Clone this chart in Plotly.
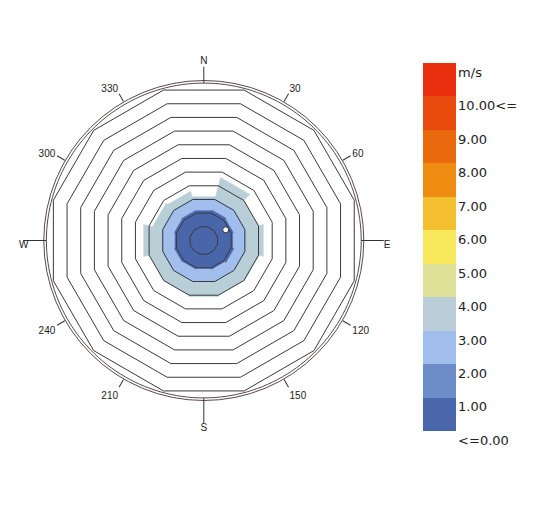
import numpy as np
import plotly.graph_objects as go

# ---------------- data ----------------
directions = [0, 30, 60, 90, 120, 150, 180, 210, 240, 270, 300, 330]
# frequency per direction sector for each speed bin (ring units)
freq_0_1 = [2.18, 2.22, 2.16, 2.11, 2.20, 2.10, 2.03, 2.10, 2.15, 2.10, 2.15, 2.20]
freq_2_3 = [0.90, 0.85, 0.90, 0.95, 0.85, 0.90, 0.95, 0.90, 0.90, 0.95, 0.90, 0.85]
freq_3_4 = [0.12, 1.53, 0.94, 1.29, 1.00, 1.00, 1.12, 1.00, 0.95, 1.35, 0.70, 0.55]
bin_colors = ["#4A66AA", "#A1BEEC", "#B9CFD8"]

mean_direction = 64
mean_value = 1.78

rings = list(range(1, 12))
outer_circles = [11.51, 11.70]
tick_angles = [30, 60, 120, 150, 210, 240, 300, 330]
tick_labels = ["30", "60", "120", "150", "210", "240", "300", "330"]
cardinal_angles = [0, 90, 180, 270]
cardinal_labels = ["N", "E", "S", "W"]
cardinal_line_len = [1.2, 1.65, 1.85, 1.65]
cardinal_text_pos = ["top center", "bottom right", "bottom center", "bottom center"]

legend_labels = ["<=0.00", "1.00", "2.00", "3.00", "4.00", "5.00", "6.00",
                 "7.00", "8.00", "9.00", "10.00<=", "m/s"]
legend_colors = ["#4A67AB", "#6D8DC9", "#A0BDEB", "#B9CED8", "#E0E198", "#F7E85C",
                 "#F5C030", "#EE8C12", "#E96A0C", "#E94A0E", "#E82E0C"]

# ---------------- figure ----------------
half = 15.0
kfac = 1.0 / np.cos(np.deg2rad(half))   # flat-face value -> vertex radius

fig = go.Figure()

cum = np.zeros(len(directions))
layers = []
for vals, col in zip([freq_0_1, freq_2_3, freq_3_4], bin_colors):
    cum = cum + np.array(vals)
    layers.append((cum.copy(), col))

for cumvals, col in reversed(layers):
    th, rr = [], []
    for d, v in zip(directions, cumvals):
        th += [d - half, d + half]
        rr += [v * kfac, v * kfac]
    th.append(th[0]); rr.append(rr[0])
    fig.add_trace(go.Scatterpolar(r=rr, theta=th, mode="lines", fill="toself",
                                  fillcolor=col, line=dict(color=col, width=0.5),
                                  hoverinfo="skip", showlegend=False))

# polygon grid rings
gth, grr = [], []
verts = [d + half for d in directions]
for k in rings:
    gth += verts + [verts[0], None]
    grr += [k * kfac] * (len(verts) + 1) + [None]
fig.add_trace(go.Scatterpolar(r=grr, theta=gth, mode="lines", connectgaps=False,
                              line=dict(color="#3a3a3a", width=1),
                              hoverinfo="skip", showlegend=False))

# inner outer-circle
cth = list(np.arange(0, 361, 2))
fig.add_trace(go.Scatterpolar(r=[outer_circles[0]] * len(cth), theta=cth, mode="lines",
                              line=dict(color="#5a4848", width=1),
                              hoverinfo="skip", showlegend=False))

# mean point
fig.add_trace(go.Scatterpolar(r=[mean_value], theta=[mean_direction], mode="markers",
                              marker=dict(size=6, color="white",
                                          line=dict(color="#333333", width=1)),
                              hoverinfo="skip", showlegend=False))

# long cardinal tick lines + labels (on a larger, transparent overlay polar)
lth, lrr = [], []
for a, ln in zip(cardinal_angles, cardinal_line_len):
    lth += [a, a, None]
    lrr += [outer_circles[0], outer_circles[0] + ln, None]
fig.add_trace(go.Scatterpolar(r=lrr, theta=lth, mode="lines", connectgaps=False,
                              line=dict(color="#333333", width=1), subplot="polar2",
                              hoverinfo="skip", showlegend=False))
fig.add_trace(go.Scatterpolar(r=[outer_circles[0] + ln for ln in cardinal_line_len],
                              theta=cardinal_angles, mode="text", text=cardinal_labels,
                              textposition=cardinal_text_pos, cliponaxis=False,
                              subplot="polar2",
                              textfont=dict(family="Liberation Sans", size=10, color="#222222"),
                              hoverinfo="skip", showlegend=False))

# page offset of the plot inside the browser window (default body margin)
off = 8
W, H = 537, 513

# colour legend
n = len(legend_colors)
cscale = []
for i, c in enumerate(legend_colors):
    cscale += [[i / n, c], [(i + 1) / n, c]]
fig.add_trace(go.Scatterpolar(
    r=[0], theta=[0], mode="markers", hoverinfo="skip", showlegend=False,
    marker=dict(size=1, opacity=0, color=[0], colorscale=cscale, cmin=0, cmax=n,
                showscale=True,
                colorbar=dict(x=(423 - off) / W, xanchor="left", xpad=0,
                              y=1 - (246.7 - off) / H, yanchor="middle", ypad=0,
                              thickness=33, thicknessmode="pixels",
                              len=368, lenmode="pixels",
                              outlinewidth=0, ticks="outside", ticklen=8,
                              tickcolor="rgba(0,0,0,0)",
                              tickvals=list(range(len(legend_labels))),
                              ticktext=legend_labels,
                              ticklabelposition="outside bottom",
                              tickfont=dict(family="DejaVu Sans", size=13, color="#222222")))))

cx, cy, R = 203.8 - off, H - (240.5 - off), 160.0
R2 = 190.0
fig.update_layout(
    width=W, height=H, margin=dict(l=0, r=0, t=0, b=0, autoexpand=False),
    paper_bgcolor="white", showlegend=False,
    polar=dict(
        domain=dict(x=[(cx - R) / W, (cx + R) / W], y=[(cy - R) / H, (cy + R) / H]),
        bgcolor="white",
        radialaxis=dict(range=[0, outer_circles[1]], visible=False),
        angularaxis=dict(direction="clockwise", rotation=90, showgrid=False,
                         showline=True, linecolor="#5a4848", linewidth=1,
                         ticks="outside", ticklen=9, tickcolor="#333333",
                         tickvals=tick_angles, ticktext=tick_labels,
                         tickfont=dict(family="Liberation Sans", size=10, color="#222222")),
    ),
    polar2=dict(
        domain=dict(x=[(cx - R2) / W, (cx + R2) / W], y=[(cy - R2) / H, (cy + R2) / H]),
        bgcolor="rgba(0,0,0,0)",
        radialaxis=dict(range=[0, outer_circles[1] * R2 / R], visible=False),
        angularaxis=dict(direction="clockwise", rotation=90, visible=False),
    ),
)

fig.write_html("out.html")
